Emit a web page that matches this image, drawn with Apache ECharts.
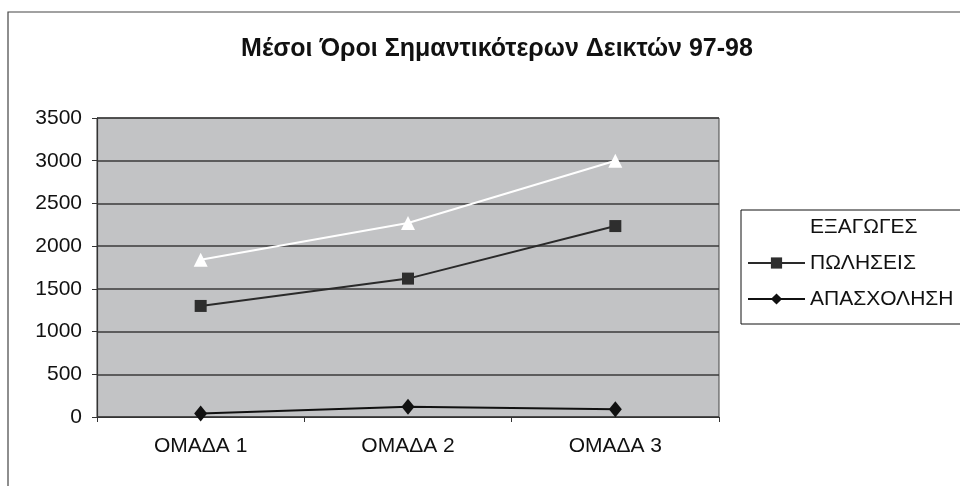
<!DOCTYPE html>
<html>
<head>
<meta charset="utf-8">
<script src="https://cdn.jsdelivr.net/npm/echarts@6/dist/echarts.min.js"></script>
<style>html,body{margin:0;padding:0;background:#fff;}#c{width:960px;height:486px;}</style>
</head>
<body>
<div id="c"></div>
<script>
const titleText = 'Μέσοι Όροι Σημαντικότερων Δεικτών 97-98';
const categories = ['ΟΜΑΔΑ 1', 'ΟΜΑΔΑ 2', 'ΟΜΑΔΑ 3'];
const seriesNames = ['ΕΞΑΓΩΓΕΣ', 'ΠΩΛΗΣΕΙΣ', 'ΑΠΑΣΧΟΛΗΣΗ'];
const exports_ = [1840, 2270, 3000];
const sales = [1300, 1620, 2235];
const employment = [40, 120, 90];
const yTicks = { min: 0, max: 3500, interval: 500 };

const font = 'Liberation Sans, Arial, sans-serif';
const chart = echarts.init(document.getElementById('c'), null, { renderer: 'canvas' });
chart.setOption({
  backgroundColor: '#ffffff',
  animation: false,
  title: {
    text: titleText,
    left: 492, top: 32, textAlign: 'center',
    textStyle: { fontFamily: font, fontSize: 25, fontWeight: 'bold', color: '#111' }
  },
  graphic: [{
    type: 'rect', shape: { x: 8, y: 12, width: 1000, height: 500 },
    style: { fill: 'none', stroke: '#444', lineWidth: 1.2 }, silent: true, z: -1
  }],
  legend: {
    orient: 'vertical', left: 741, top: 210,
    padding: [6, 40, 14, 6], itemGap: 14,
    itemWidth: 57, itemHeight: 14,
    borderColor: '#111', borderWidth: 1,
    textStyle: { fontFamily: font, fontSize: 21, lineHeight: 22, color: '#111' },
    data: seriesNames
  },
  grid: {
    left: 97, top: 118, width: 622, height: 299,
    show: true, backgroundColor: '#c2c3c5', borderColor: '#444', borderWidth: 1
  },
  xAxis: {
    type: 'category', data: categories, boundaryGap: true,
    axisLine: { lineStyle: { color: '#333', width: 1.2 } },
    axisTick: { show: true, length: 5, lineStyle: { color: '#333' } },
    axisLabel: { fontFamily: font, fontSize: 21, color: '#111', margin: 19 }
  },
  yAxis: {
    type: 'value', min: yTicks.min, max: yTicks.max, interval: yTicks.interval,
    axisLine: { show: true, lineStyle: { color: '#333', width: 1.2 } },
    axisTick: { show: true, length: 5, lineStyle: { color: '#333' } },
    axisLabel: { fontFamily: font, fontSize: 21, color: '#111', margin: 15,
                 formatter: function (v) { return String(v); } },
    splitLine: { lineStyle: { color: '#3a3a3a', width: 1.5 } }
  },
  series: [
    { name: seriesNames[0], type: 'line', data: exports_,
      symbol: 'triangle', symbolSize: 14,
      lineStyle: { color: '#ffffff', width: 2 },
      itemStyle: { color: '#ffffff' } },
    { name: seriesNames[1], type: 'line', data: sales,
      symbol: 'rect', symbolSize: 12,
      lineStyle: { color: '#2a2a2a', width: 2 },
      itemStyle: { color: '#2e2e2e' } },
    { name: seriesNames[2], type: 'line', data: employment,
      symbol: 'diamond', symbolSize: [13, 16],
      lineStyle: { color: '#111', width: 2 },
      itemStyle: { color: '#111' } }
  ]
});
</script>
</body>
</html>
